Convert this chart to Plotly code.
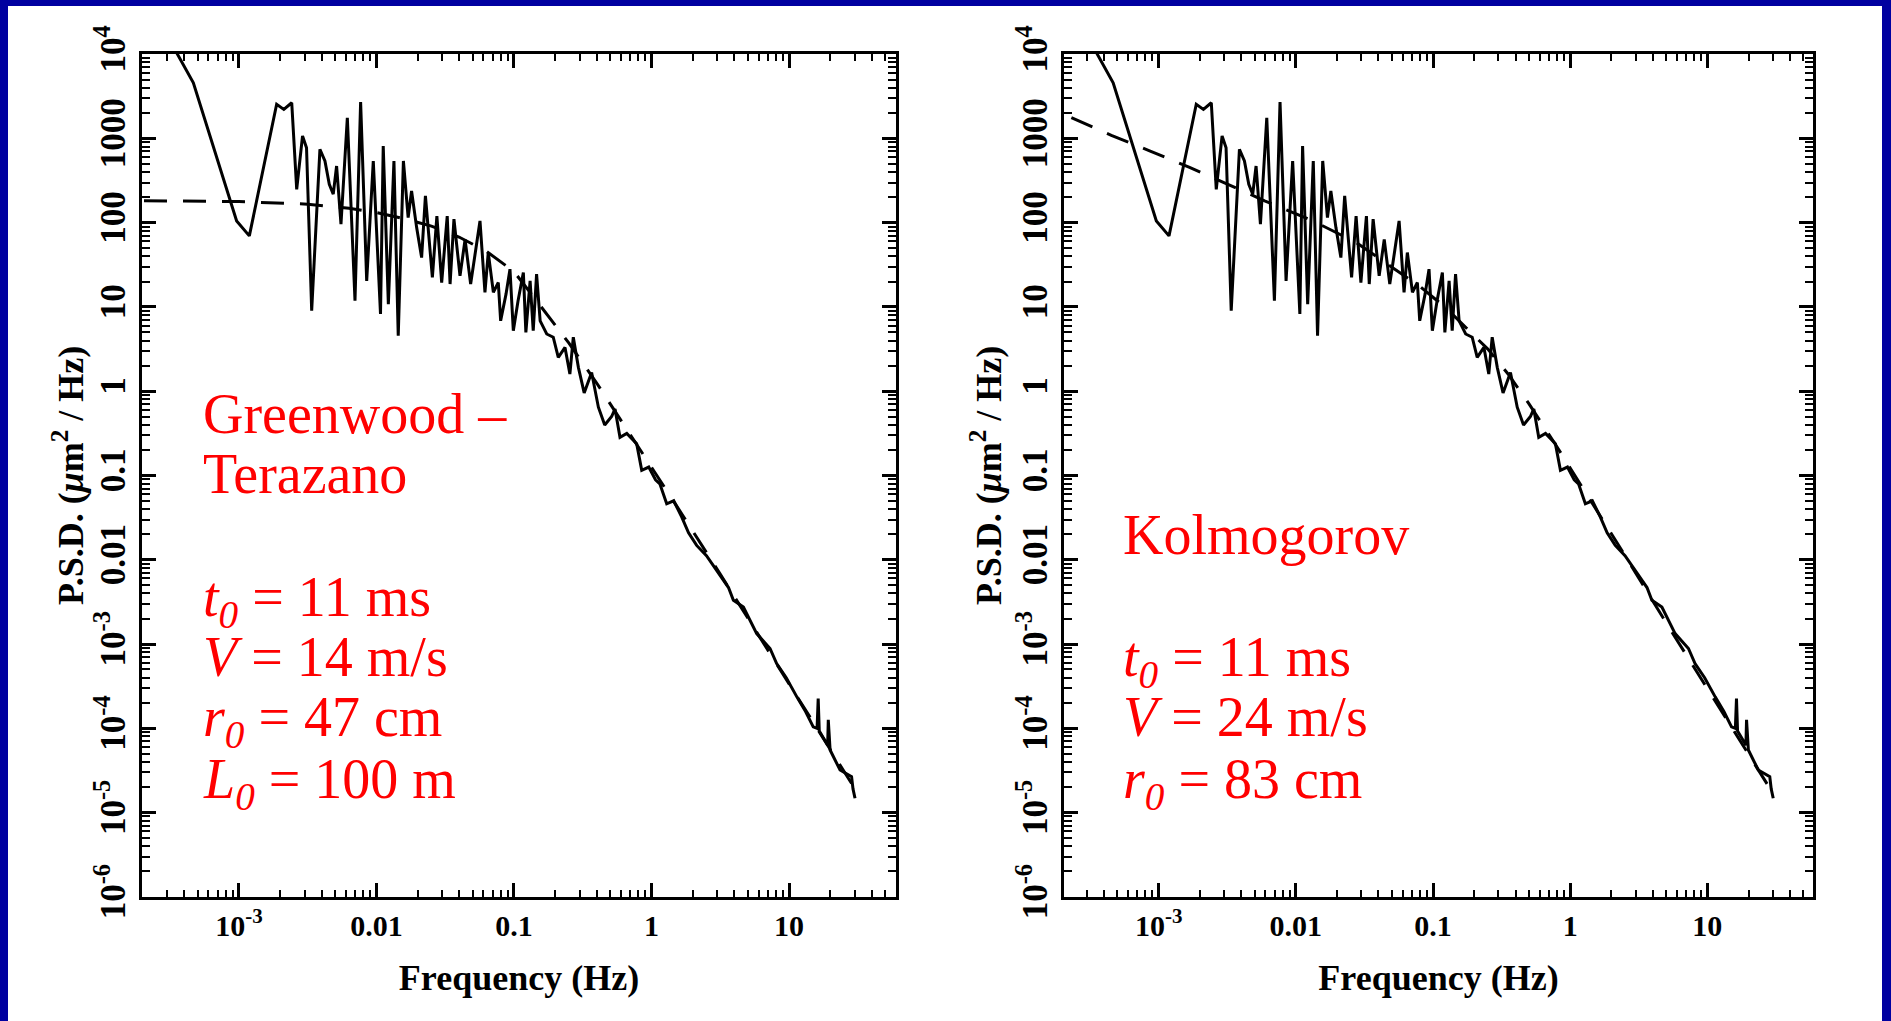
import plotly.graph_objects as go

# ---------------- data ----------------
# measured tip/tilt power spectral density (same measurement in both panels)
freq_hz = [2.82e-4, 4.66e-4, 9.62e-4, 1.19e-3, 1.88e-3, 2.12e-3, 2.42e-3, 2.63e-3, 2.90e-3, 3.10e-3,
           3.38e-3, 3.88e-3, 4.22e-3, 4.54e-3, 4.85e-3, 5.13e-3, 5.52e-3, 6.14e-3, 6.98e-3, 7.67e-3,
           8.49e-3, 9.48e-3, 0.0107, 0.0112, 0.0122, 0.0134, 0.0144, 0.0157, 0.0170, 0.0180,
           0.0196, 0.0213, 0.0227, 0.0255, 0.0275, 0.0298, 0.0327, 0.0343, 0.0366, 0.0405,
           0.0441, 0.0484, 0.0530, 0.0566, 0.0615, 0.0650, 0.0708, 0.0769, 0.0800, 0.0875,
           0.0935, 0.0989, 0.107, 0.117, 0.122, 0.131, 0.138, 0.146, 0.155, 0.173,
           0.193, 0.210, 0.235, 0.255, 0.270, 0.294, 0.324, 0.367, 0.411, 0.457,
           0.513, 0.543, 0.590, 0.661, 0.780, 0.849, 0.955, 1.07, 1.15, 1.29,
           1.45, 1.66, 1.86, 2.13, 2.51, 2.98, 3.63, 3.94, 4.66, 5.82,
           7.28, 8.13, 9.55, 11.4, 13.2, 15.0, 16.0, 16.3, 16.6, 18.8,
           19.1, 19.3, 19.9, 23.5, 28.5, 29.2, 30.2]
psd_measured = [20000, 4570, 105, 69.8, 2540, 2210, 2650, 249, 1070, 776,
                9.02, 743, 540, 286, 218, 471, 95.9, 1760, 11.9, 2700,
                20.4, 540, 8.24, 813, 10.8, 540, 4.56, 540, 115, 238,
                87.5, 38.6, 208, 22.4, 120, 19.5, 120, 18.7, 110, 23.4,
                63.1, 18.7, 50.7, 105, 14.9, 44.3, 14.9, 19.5, 6.85, 14.2,
                28.1, 5.22, 11.8, 25.6, 4.99, 20.4, 5.22, 24.5, 6.85, 4.78,
                4.37, 2.52, 3.31, 1.60, 4.37, 1.92, 0.955, 1.67, 0.646, 0.398,
                0.501, 0.617, 0.284, 0.316, 0.238, 0.115, 0.126, 0.0891, 0.0796, 0.0461,
                0.0501, 0.0321, 0.0209, 0.0148, 0.0112, 7.48e-3, 4.68e-3, 3.30e-3, 2.75e-3, 1.33e-3,
                8.85e-4, 5.87e-4, 3.98e-4, 2.36e-4, 1.58e-4, 1.04e-4, 1.0e-4, 2.26e-4, 9.3e-5, 6.6e-5,
                6.3e-5, 1.26e-4, 5.52e-5, 3.20e-5, 2.67e-5, 1.91e-5, 1.48e-5]

# Greenwood - Tarazano model (dashed, left panel)
freq_gt = [2.04e-4, 1e-3, 3.16e-3, 6.31e-3, 0.01, 0.0158, 0.0251, 0.0398, 0.0631, 0.1,
           0.158, 0.251, 0.398, 0.631, 1.0, 1.58, 3.16, 6.31, 12.6, 20.0, 30.2]
psd_gt = [182, 178, 166, 148, 132, 112, 91.2, 67.6, 45.7, 26.3,
          10.0, 3.72, 1.26, 0.398, 0.126, 0.0398, 6.76e-3, 1.12e-3, 1.86e-4, 5.62e-5, 1.91e-5]

# Kolmogorov model (dashed, right panel)
freq_kolmo = [2.31e-4, 4.52e-4, 8.59e-4, 1.68e-3, 3.29e-3, 5.92e-3, 0.0133, 0.0275, 0.0427, 0.0794,
              0.126, 0.178, 0.251, 0.355, 0.501, 0.794, 1.26, 2.51, 5.01, 10.0, 20.0, 30.9]
psd_kolmo = [1770, 1090, 713, 453, 279, 182, 105, 58.3, 35.5, 17.8,
             9.55, 5.50, 3.16, 1.58, 0.708, 0.224, 0.0676, 0.0112, 1.78e-3, 2.95e-4, 5.01e-5, 1.58e-5]

y_tickvals = [1e-6, 1e-5, 1e-4, 1e-3, 0.01, 0.1, 1, 10, 100, 1000, 1e4]
y_ticktext = ["10<sup>-6</sup>", "10<sup>-5</sup>", "10<sup>-4</sup>", "10<sup>-3</sup>", "0.01", "0.1",
              "1", "10", "100", "1000", "10<sup>4</sup>"]
x_tickvals = [1e-3, 0.01, 0.1, 1, 10]
x_ticktext = ["10<sup>-3</sup>", "0.01", "0.1", "1", "10"]

x_title = "Frequency (Hz)"
y_title = "P.S.D. (<i>\u03bc</i>m<sup>2</sup> / Hz)"

left_texts = ["Greenwood \u2013", "Terazano",
              "<i>t</i><sub><i>0</i></sub> = 11 ms", "<i>V</i> = 14 m/s",
              "<i>r</i><sub><i>0</i></sub> = 47 cm", "<i>L</i><sub><i>0</i></sub> = 100 m"]
right_texts = ["Kolmogorov",
               "<i>t</i><sub><i>0</i></sub> = 11 ms", "<i>V</i> = 24 m/s",
               "<i>r</i><sub><i>0</i></sub> = 83 cm"]

# ---------------- layout helpers ----------------
W, H = 1891, 1021
BLUE = "#0000A0"
SERIF = "Liberation Serif"

x_minor = [m * 10.0 ** d for d in range(-4, 2) for m in range(2, 10)]
y_minor = [m * 10.0 ** d for d in range(-6, 4) for m in range(2, 10)]


def xaxis_cfg(domain, rng, anchor):
    return dict(
        type="log", domain=domain, range=rng, anchor=anchor, automargin=False,
        showline=True, linewidth=3, linecolor="black", mirror="allticks",
        ticks="inside", ticklen=14, tickwidth=2.5, tickcolor="black",
        tickmode="array", tickvals=x_tickvals, ticktext=x_ticktext,
        tickfont=dict(family=SERIF, size=30, color="black", weight="bold"),
        ticklabelstandoff=0,
        showgrid=False, zeroline=False,
        minor=dict(tickvals=x_minor, ticks="inside", ticklen=7, tickwidth=2,
                   tickcolor="black", showgrid=False),
        title=dict(text=x_title,
                   font=dict(family=SERIF, size=36, color="black", weight="bold"),
                   standoff=24),
    )


def yaxis_cfg(domain, anchor):
    return dict(
        type="log", domain=domain, range=[-6.002, 4.002], anchor=anchor, automargin=False,
        showline=True, linewidth=3, linecolor="black", mirror="allticks",
        ticks="inside", ticklen=14, tickwidth=2.5, tickcolor="black",
        tickmode="array", tickvals=y_tickvals, ticktext=y_ticktext,
        tickangle=-90,
        tickfont=dict(family=SERIF, size=35, color="black", weight="bold"),
        ticklabelstandoff=0,
        showgrid=False, zeroline=False,
        minor=dict(tickvals=y_minor, ticks="inside", ticklen=8, tickwidth=2,
                   tickcolor="black", showgrid=False),
    )


fig = go.Figure()

# left panel
fig.add_trace(go.Scatter(x=freq_hz, y=psd_measured, mode="lines",
                         line=dict(color="black", width=3), xaxis="x", yaxis="y",
                         name="measured"))
fig.add_trace(go.Scatter(x=freq_gt, y=psd_gt, mode="lines",
                         line=dict(color="black", width=3, dash="23px,16px"),
                         xaxis="x", yaxis="y", name="Greenwood-Tarazano"))
# right panel
fig.add_trace(go.Scatter(x=freq_hz, y=psd_measured, mode="lines",
                         line=dict(color="black", width=3), xaxis="x2", yaxis="y2",
                         name="measured"))
fig.add_trace(go.Scatter(x=freq_kolmo, y=psd_kolmo, mode="lines",
                         line=dict(color="black", width=3, dash="23px,16px"),
                         xaxis="x2", yaxis="y2", name="Kolmogorov"))

yd = [1 - 897 / H, 1 - 54 / H]
fig.update_layout(
    width=W, height=H,
    margin=dict(l=0, r=0, t=0, b=0, autoexpand=False),
    paper_bgcolor=BLUE, plot_bgcolor="white",
    showlegend=False,
    xaxis=xaxis_cfg([142 / W, 896 / W], [-3.705, 1.778], "y"),
    yaxis=yaxis_cfg(yd, "x"),
    xaxis2=xaxis_cfg([1064 / W, 1813 / W], [-3.69, 1.77], "y2"),
    yaxis2=yaxis_cfg(yd, "x2"),
    shapes=[dict(type="rect", xref="paper", yref="paper",
                 x0=8 / W, x1=1882 / W, y0=0, y1=1 - 6 / H,
                 fillcolor="white", line=dict(width=0), layer="below")],
)

annotations = []
# rotated y-axis titles
for cx in (69, 987):
    annotations.append(dict(text=y_title, xref="paper", yref="paper", x=cx / W, y=1 - 476 / H,
                            xanchor="center", yanchor="middle", textangle=-90, showarrow=False,
                            borderpad=0,
                            font=dict(family=SERIF, size=36, color="black", weight="bold")))

# red text blocks (top of each line in pixels)
left_tops = [382, 442, 565, 625, 685, 747]
right_tops = [503, 625, 685, 747]
for txt, top in zip(left_texts, left_tops):
    annotations.append(dict(text=txt, xref="paper", yref="paper", x=202 / W, y=1 - top / H,
                            xanchor="left", yanchor="top", showarrow=False, borderpad=0,
                            font=dict(family=SERIF, size=56, color="#FF0000")))
for txt, top in zip(right_texts, right_tops):
    annotations.append(dict(text=txt, xref="paper", yref="paper", x=1122 / W, y=1 - top / H,
                            xanchor="left", yanchor="top", showarrow=False, borderpad=0,
                            font=dict(family=SERIF, size=56, color="#FF0000")))
fig.update_layout(annotations=annotations)

fig.write_html("out.html")
